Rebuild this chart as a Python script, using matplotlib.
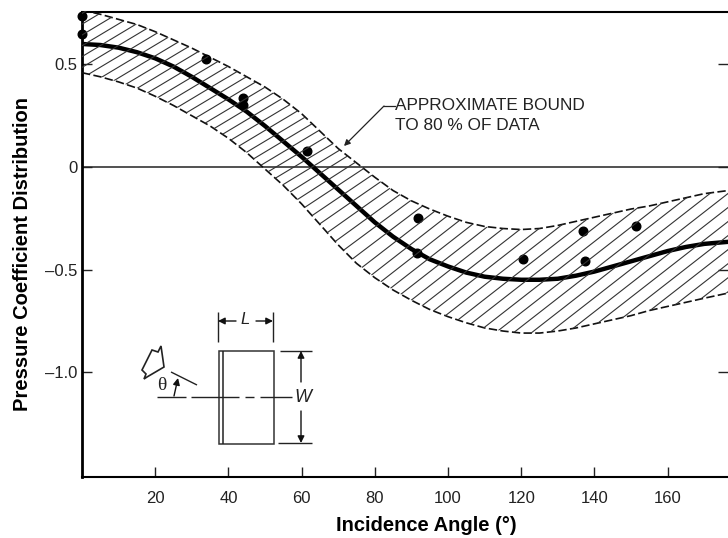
import numpy as np
import matplotlib
matplotlib.use('Agg')
import matplotlib.pyplot as plt
from matplotlib.collections import LineCollection
from matplotlib.patches import PathPatch, Polygon, Rectangle
from matplotlib.path import Path

plt.rcParams['font.family'] = ['Liberation Sans', 'DejaVu Sans']

# Values
angle = [0, 5, 10, 15, 20, 25, 30, 35, 40, 45, 50, 55, 60, 65, 70, 75, 80, 85, 90, 95, 100, 105, 110, 115,
         120, 125, 130, 135, 140, 145, 150, 155, 160, 165, 170, 176.5]
mean_y = [0.600, 0.595, 0.582, 0.56, 0.53, 0.49, 0.44, 0.385, 0.33, 0.27, 0.20, 0.125, 0.05, -0.03, -0.11,
          -0.19, -0.27, -0.34, -0.40, -0.45, -0.485, -0.515, -0.535, -0.545, -0.55, -0.55, -0.545, -0.53,
          -0.51, -0.485, -0.46, -0.435, -0.41, -0.39, -0.375, -0.365]
upper_y = [0.765, 0.745, 0.72, 0.695, 0.66, 0.62, 0.58, 0.535, 0.49, 0.44, 0.39, 0.33, 0.26, 0.175, 0.09,
           0.02, -0.05, -0.115, -0.165, -0.205, -0.24, -0.27, -0.29, -0.30, -0.305, -0.30, -0.285, -0.265,
           -0.245, -0.225, -0.205, -0.19, -0.17, -0.15, -0.13, -0.115]
lower_y = [0.46, 0.44, 0.415, 0.385, 0.345, 0.30, 0.25, 0.20, 0.14, 0.07, -0.01, -0.09, -0.18, -0.28, -0.38,
           -0.47, -0.54, -0.60, -0.65, -0.695, -0.73, -0.76, -0.785, -0.80, -0.81, -0.81, -0.80, -0.785,
           -0.765, -0.745, -0.725, -0.70, -0.68, -0.66, -0.64, -0.615]
dots_x = [0, 0, 33.8, 44, 44, 61.4, 91.8, 91.5, 120.5, 137, 137.4, 151.4]
dots_y = [0.735, 0.65, 0.527, 0.335, 0.30, 0.08, -0.25, -0.42, -0.45, -0.31, -0.46, -0.29]
x_ticks = [20, 40, 60, 80, 100, 120, 140, 160]
y_ticks = [0.5, 0, -0.5, -1.0]
y_tick_labels = ['0.5', '0', '\u20130.5', '\u20131.0']

W, H = 728, 538
fig = plt.figure(figsize=(W / 100, H / 100), dpi=100)
ax = fig.add_axes([82 / W, 1 - 477 / H, (W - 82) / W, (477 - 12) / H])
ax.set_xlim(0, 176.5)
ax.set_ylim(-1.512, 0.756)

ax.axhline(0, color='#222222', lw=1.1)
ax.plot(angle, upper_y, color='#111111', lw=1.2, dashes=(5, 2), zorder=3)
ax.plot(angle, lower_y, color='#111111', lw=1.2, dashes=(5, 2), zorder=3)
ax.plot(angle, mean_y, color='black', lw=3.2, zorder=4, solid_capstyle='round')
ax.plot(dots_x, dots_y, 'o', color='black', ms=6.2, clip_on=False, zorder=5)

ax.set_xticks(x_ticks)
ax.set_yticks(y_ticks, y_tick_labels)
ax.tick_params(axis='x', direction='in', length=7, width=1, labelsize=12, pad=10, colors='#222222')
ax.tick_params(axis='y', direction='in', length=7, width=1, labelsize=12, pad=3.5, colors='#222222', right=True)
ax.spines['right'].set_visible(False)
ax.spines['left'].set_linewidth(2)
ax.spines['bottom'].set_linewidth(1.5)
ax.spines['top'].set_linewidth(1.5)
ax.set_xlabel('Incidence Angle (\u00b0)', fontweight='bold', fontsize=14.5, x=0.5325, labelpad=7)
ax.set_ylabel('Pressure Coefficient Distribution', fontweight='bold', fontsize=14.5, y=0.48, labelpad=9)

# Overlay in picture pixels for the hatching and the sketch
ov = fig.add_axes([0, 0, 1, 1], facecolor='none')
ov.set_xlim(0, W)
ov.set_ylim(H, 0)
ov.axis('off')

band = list(zip(angle, upper_y)) + list(zip(angle[::-1], lower_y[::-1]))
clip = PathPatch(Path(band + [band[0]]), transform=ax.transData, fc='none', ec='none')
ax.add_patch(clip)
hatch = []
for x0 in np.arange(-300, 1200, 18.0):
    slope = 0.6 + 0.18 * np.clip((x0 - 300) / 200, 0, 1)
    hatch.append([(x0 - 400, 167 + 400 * slope), (x0 + 400, 167 - 400 * slope)])
lc = LineCollection(hatch, colors='#333333', linewidths=0.8, zorder=2)
ov.add_collection(lc)
lc.set_clip_path(clip)

# Annotation
ov.text(395, 106, 'APPROXIMATE BOUND', fontsize=12.4, va='center', color='#222222')
ov.text(395, 125, 'TO 80 % OF DATA', fontsize=12.4, va='center', color='#222222')
ov.annotate('', xy=(344, 146), xytext=(384, 106),
            arrowprops=dict(arrowstyle='-|>', color='#222222', lw=0.9, mutation_scale=9, shrinkA=0, shrinkB=0))
ov.plot([384, 395], [106, 106], color='#222222', lw=0.9)


def seg(xs, ys, lw=1.0):
    ov.plot(xs, ys, color='#222222', lw=lw, solid_capstyle='butt')


def arrow(p0, p1):
    ov.annotate('', xy=p1, xytext=p0,
                arrowprops=dict(arrowstyle='-|>', color='#111111', lw=1.0, mutation_scale=10, shrinkA=0, shrinkB=0))


# Plate sketch
ov.add_patch(Rectangle((219, 351), 55, 93, fc='none', ec='#333333', lw=1.1))
seg([223, 223], [351, 444], 1.1)
for x0, x1 in [(157, 186), (191, 239), (245, 254), (260, 292)]:
    seg([x0, x1], [397, 397])
seg([280, 312], [351, 351])
seg([278, 312], [443, 443])
arrow((301, 382), (301, 351))
arrow((301, 411), (301, 443))
seg([218, 218], [312, 342])
seg([273, 273], [312, 342])
arrow((236, 321), (218, 321))
arrow((256, 321), (273, 321))
seg([171, 197], [372, 385])
arrow((174, 396), (178, 378))
ov.add_patch(Polygon([(142, 370), (152, 350), (158, 352), (161, 346), (164, 367), (147, 377), (144, 379),
                      (146, 374)], closed=True, fc='none', ec='#222222', lw=1.2))
ov.text(162, 385, '\u03b8', fontsize=14, family='Liberation Serif', ha='center', va='center', color='#222222')
ov.text(303, 398, 'W', fontsize=13, style='italic', ha='center', va='center', color='#222222')
ov.text(245, 320, 'L', fontsize=12, style='italic', ha='center', va='center', color='#222222')

fig.savefig('out.png', dpi=100)
